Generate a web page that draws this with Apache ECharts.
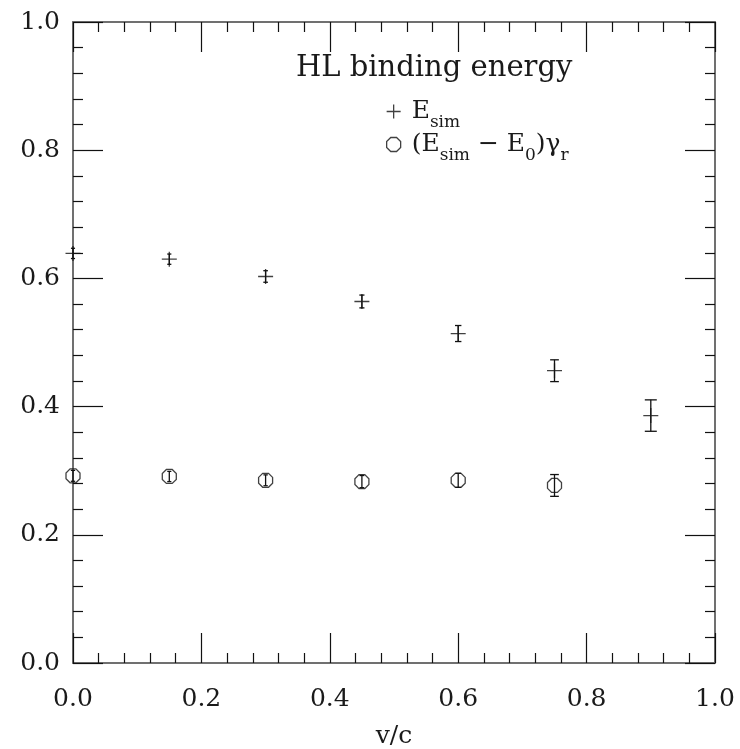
<!DOCTYPE html>
<html><head><meta charset="utf-8">
<script src="https://cdn.jsdelivr.net/npm/echarts@6/dist/echarts.min.js"></script>
<style>html,body{margin:0;padding:0;background:#fff}#c{width:740px;height:749px}</style>
</head><body><div id="c"></div>
<script>
// ---- data ----
const vc = [0, 0.15, 0.3, 0.45, 0.6, 0.75, 0.9];
const eSim = [0.639, 0.630, 0.603, 0.564, 0.514, 0.456, 0.386];
const eSimErr = [0.008, 0.008, 0.009, 0.010, 0.0125, 0.017, 0.0245];
const vcCorr = [0, 0.15, 0.3, 0.45, 0.6, 0.75];
const eCorr = [0.292, 0.291, 0.285, 0.283, 0.285, 0.277];
const eCorrErr = [0.0085, 0.008, 0.0085, 0.0095, 0.011, 0.017];
const xTicks = [0, 0.2, 0.4, 0.6, 0.8, 1.0];
const yTicks = [0, 0.2, 0.4, 0.6, 0.8, 1.0];
const titleText = 'HL binding energy';
const xName = 'v/c';

const SERIF = '"DejaVu Serif", "Liberation Serif", serif';
const chart = echarts.init(document.getElementById('c'));

function axis(pos, showLabels, ticks) {
  return {
    type: 'value', position: pos, min: ticks[0], max: ticks[ticks.length - 1],
    interval: ticks[1] - ticks[0],
    axisLine: { show: true, onZero: false, lineStyle: { color: '#707070', width: 2 } },
    axisTick: { show: true, inside: true, length: 30, lineStyle: { color: '#111', width: 1.2 } },
    minorTick: { show: true, splitNumber: 5, length: 10, lineStyle: { color: '#111', width: 1.2 } },
    splitLine: { show: false },
    axisLabel: { show: showLabels, fontFamily: SERIF, fontSize: 25, color: '#1a1a1a',
      formatter: v => v.toFixed(1) }
  };
}

const xBottom = axis('bottom', true, xTicks);
xBottom.axisLabel.margin = 24;
xBottom.name = xName;
xBottom.nameLocation = 'middle';
xBottom.nameGap = 61;
xBottom.nameTextStyle = { fontFamily: SERIF, fontSize: 25, color: '#1a1a1a' };
const xTop = axis('top', false, xTicks);
const yLeft = axis('left', true, yTicks);
yLeft.axisLabel.margin = 13;
const yRight = axis('right', false, yTicks);

function errRender(params, api) {
  const x = api.value(0), y = api.value(1), e = api.value(2);
  const t = api.coord([x, y + e]), b = api.coord([x, y - e]);
  const half = (b[1] - t[1]) / 2;
  const h = Math.min(6, half * 0.4);
  const st = { stroke: '#111', lineWidth: 1.3, fill: null };
  return { type: 'group', children: [
    { type: 'line', shape: { x1: t[0], y1: t[1], x2: b[0], y2: b[1] }, style: st },
    { type: 'line', shape: { x1: t[0] - h, y1: t[1], x2: t[0] + h, y2: t[1] }, style: st },
    { type: 'line', shape: { x1: b[0] - h, y1: b[1], x2: b[0] + h, y2: b[1] }, style: st }
  ]};
}

const PLUS = 'path://M0,7L14,7M7,0L7,14';
const OCT = 'path://M4.1,0L9.9,0L14,4.1L14,9.9L9.9,14L4.1,14L0,9.9L0,4.1Z';
const markStyle = { color: 'rgba(0,0,0,0)', borderColor: '#111', borderWidth: 1.3 };
const richM = { fontFamily: SERIF, fontSize: 25, color: '#1a1a1a', lineHeight: 40, verticalAlign: 'middle' };
const richS = { fontFamily: SERIF, fontSize: 17, color: '#1a1a1a', lineHeight: 40, verticalAlign: 'bottom' };

function legendFor(name, icon, top) {
  return {
    show: true, left: 386, top: top, orient: 'vertical', selectedMode: false,
    itemWidth: 14, itemHeight: 14, padding: 0,
    itemStyle: markStyle,
    data: [{ name: name, icon: icon }],
    formatter: n => n === 'E_sim'
      ? '{p|}{m|E}{s|sim}'
      : '{p|}{m|(E}{s|sim}{m| − E}{s|0}{m|)γ}{s|r}',
    textStyle: { rich: { m: richM, s: richS, p: { width: 6 } } }
  };
}

chart.setOption({
  animation: false,
  backgroundColor: '#fff',
  title: { text: titleText, left: 296, top: 54, padding: 0,
    textStyle: { fontFamily: SERIF, fontSize: 29, fontWeight: 'normal', color: '#1a1a1a' } },
  grid: { left: 73, top: 22, width: 642, height: 641, outerBoundsMode: 'none', containLabel: false },
  legend: [legendFor('E_sim', PLUS, 99), legendFor('corr', OCT, 132)],
  xAxis: [xBottom, xTop],
  yAxis: [yLeft, yRight],
  series: [
    { type: 'custom', xAxisIndex: 0, yAxisIndex: 0, renderItem: errRender, clip: false,
      data: vc.map((x, i) => [x, eSim[i], eSimErr[i]]), encode: { x: 0, y: 1 }, z: 3 },
    { type: 'custom', xAxisIndex: 0, yAxisIndex: 0, renderItem: errRender, clip: false,
      data: vcCorr.map((x, i) => [x, eCorr[i], eCorrErr[i]]), encode: { x: 0, y: 1 }, z: 3 },
    { name: 'E_sim', type: 'scatter', symbol: PLUS, symbolSize: 15, clip: false,
      itemStyle: markStyle, data: vc.map((x, i) => [x, eSim[i]]), z: 4 },
    { name: 'corr', type: 'scatter', symbol: OCT, symbolSize: 14, clip: false,
      itemStyle: markStyle, data: vcCorr.map((x, i) => [x, eCorr[i]]), z: 4 }
  ]
});
</script></body></html>
